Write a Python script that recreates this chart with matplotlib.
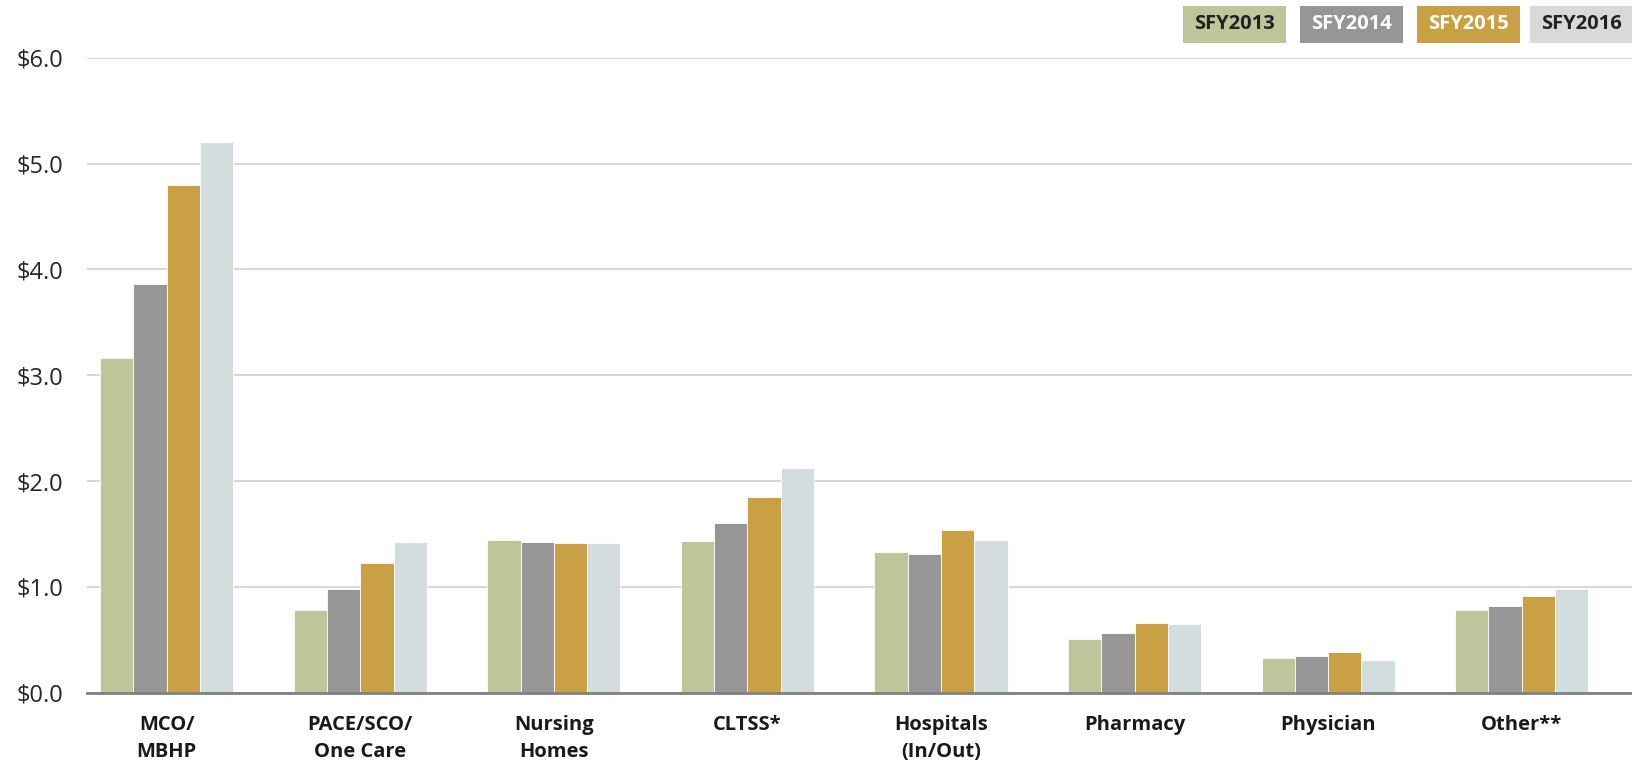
import matplotlib
matplotlib.use("Agg")
import matplotlib.pyplot as plt
from matplotlib.patches import Rectangle
import numpy as np

plt.rcParams['font.family'] = ['Open Sans', 'DejaVu Sans']

categories = ["MCO/\nMBHP", "PACE/SCO/\nOne Care", "Nursing\nHomes", "CLTSS*",
              "Hospitals\n(In/Out)", "Pharmacy", "Physician", "Other**"]
series_names = ["SFY2013", "SFY2014", "SFY2015", "SFY2016"]
sfy2013 = [3.16, 0.78, 1.44, 1.43, 1.33, 0.51, 0.33, 0.78]
sfy2014 = [3.86, 0.98, 1.42, 1.60, 1.31, 0.56, 0.35, 0.82]
sfy2015 = [4.80, 1.23, 1.41, 1.85, 1.54, 0.66, 0.38, 0.91]
sfy2016 = [5.20, 1.42, 1.41, 2.12, 1.44, 0.65, 0.31, 0.98]
y_ticks = [0.0, 1.0, 2.0, 3.0, 4.0, 5.0, 6.0]

colors = ["#BFC49B", "#969696", "#C9A144", "#D4DDDE"]
legend_colors = ["#BFC49B", "#969696", "#C9A144", "#D9D9D9"]
legend_text_colors = ["#222222", "#FFFFFF", "#FFFFFF", "#222222"]

W, H = 1632, 764
fig = plt.figure(figsize=(W / 100, H / 100), dpi=100)
ax = fig.add_axes([87 / W, 71.3 / H, 1545 / W, (692.7 - 57.7) / H])

x = np.arange(len(categories))
bw = 0.172
for k, vals in enumerate([sfy2013, sfy2014, sfy2015, sfy2016]):
    ax.bar(x + (k - 1.5) * bw, vals, width=bw, color=colors[k],
           edgecolor="white", linewidth=0.6, zorder=3)

ax.set_xlim(-0.4117, 7.570)
ax.set_ylim(0, 6.0)
ax.set_yticks(y_ticks)
ax.set_yticklabels([f"${v:.1f}" for v in y_ticks], fontsize=17, color="#262626")
ax.set_xticks(x)
ax.set_xticklabels(categories, fontsize=14.5, fontweight="bold", color="#1a1a1a",
                   linespacing=1.45)
ax.tick_params(axis="y", length=0, pad=17)
ax.tick_params(axis="x", length=0, pad=16)

ax.grid(axis="y", color="#D9D9D9", linewidth=1.5, zorder=0)
for s in ["top", "right", "left"]:
    ax.spines[s].set_visible(False)
ax.spines["bottom"].set_color("#808080")
ax.spines["bottom"].set_linewidth(2)
ax.spines["bottom"].set_zorder(4)

# Legend as filled label boxes along the top edge
box_lefts = [1183, 1300, 1417, 1530]
box_w, box_top, box_bot = 103, 6, 42.7
for name, bx, fc, tc in zip(series_names, box_lefts, legend_colors, legend_text_colors):
    fig.patches.append(Rectangle((bx / W, 1 - box_bot / H), box_w / W, (box_bot - box_top) / H,
                                 transform=fig.transFigure, facecolor=fc, edgecolor="none"))
    fig.text((bx + box_w / 2) / W, 1 - (box_top + box_bot) / 2 / H, name,
             ha="center", va="center", fontsize=14.5, fontweight="bold", color=tc)

fig.savefig("out.png", dpi=100)
